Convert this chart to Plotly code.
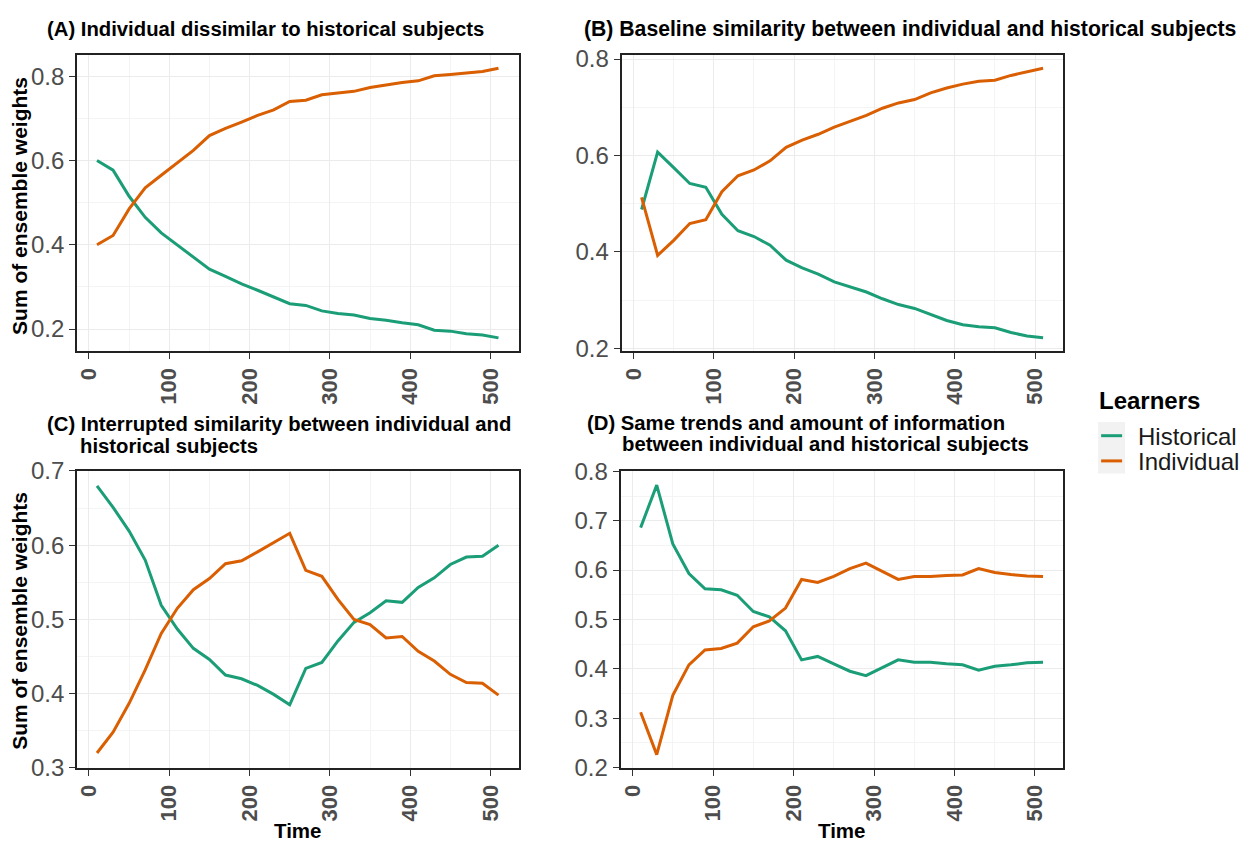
import plotly.graph_objects as go

# ---------------- data ----------------
time = [10, 30, 50, 70, 90, 110, 130, 150, 170, 190, 210, 230, 250,
        270, 290, 310, 330, 350, 370, 390, 410, 430, 450, 470, 490, 510]

a_historical = [0.600, 0.577, 0.515, 0.465, 0.428, 0.400, 0.372, 0.342, 0.325, 0.307,
                0.292, 0.276, 0.260, 0.256, 0.243, 0.237, 0.233, 0.225, 0.221, 0.215,
                0.210, 0.197, 0.195, 0.189, 0.186, 0.179]
a_individual = [0.400, 0.422, 0.485, 0.535, 0.565, 0.595, 0.624, 0.659, 0.676, 0.691,
                0.707, 0.720, 0.740, 0.743, 0.756, 0.760, 0.764, 0.773, 0.779, 0.785,
                0.789, 0.801, 0.804, 0.808, 0.811, 0.819]

b_historical = [0.488, 0.607, 0.575, 0.542, 0.534, 0.478, 0.444, 0.432, 0.414, 0.383,
                0.367, 0.354, 0.338, 0.327, 0.317, 0.303, 0.291, 0.283, 0.270, 0.258,
                0.249, 0.245, 0.243, 0.233, 0.226, 0.222]
b_individual = [0.513, 0.393, 0.424, 0.459, 0.467, 0.525, 0.558, 0.570, 0.589, 0.617,
                0.632, 0.644, 0.659, 0.671, 0.683, 0.698, 0.709, 0.716, 0.730, 0.740,
                0.748, 0.754, 0.756, 0.766, 0.773, 0.781]

c_historical = [0.680, 0.651, 0.619, 0.580, 0.519, 0.487, 0.461, 0.446, 0.425, 0.420,
                0.411, 0.399, 0.385, 0.434, 0.442, 0.471, 0.496, 0.509, 0.525, 0.523,
                0.543, 0.556, 0.574, 0.584, 0.585, 0.600]
c_individual = [0.320, 0.348, 0.387, 0.432, 0.481, 0.515, 0.540, 0.555, 0.575, 0.579,
                0.591, 0.603, 0.616, 0.566, 0.558, 0.527, 0.500, 0.493, 0.475, 0.477,
                0.457, 0.444, 0.426, 0.415, 0.414, 0.398]

d_historical = [0.686, 0.772, 0.653, 0.593, 0.562, 0.560, 0.549, 0.516, 0.505, 0.477,
                0.418, 0.425, 0.410, 0.395, 0.386, 0.402, 0.418, 0.413, 0.413, 0.410,
                0.408, 0.397, 0.405, 0.408, 0.412, 0.413]
d_individual = [0.312, 0.226, 0.346, 0.408, 0.438, 0.441, 0.452, 0.485, 0.497, 0.523,
                0.581, 0.575, 0.587, 0.603, 0.614, 0.598, 0.581, 0.587, 0.587, 0.589,
                0.590, 0.603, 0.595, 0.591, 0.588, 0.587]

x_ticks = [0, 100, 200, 300, 400, 500]
series_names = ["Historical", "Individual"]
colors = {"Historical": "#1B9E77", "Individual": "#D95F02"}

panels = [
    dict(hist=a_historical, ind=a_individual, yrange=[0.147, 0.851], minor=0.1,
         ticks=[0.2, 0.4, 0.6, 0.8], ticktext=["0.2", "0.4", "0.6", "0.8"]),
    dict(hist=b_historical, ind=b_individual, yrange=[0.194, 0.809], minor=0.1,
         ticks=[0.2, 0.4, 0.6, 0.8], ticktext=["0.2", "0.4", "0.6", "0.8"]),
    dict(hist=c_historical, ind=c_individual, yrange=[0.2995, 0.7005], minor=0.05,
         ticks=[0.3, 0.4, 0.5, 0.6, 0.7], ticktext=["0.3", "0.4", "0.5", "0.6", "0.7"]),
    dict(hist=d_historical, ind=d_individual, yrange=[0.1985, 0.8015], minor=0.05,
         ticks=[0.2, 0.3, 0.4, 0.5, 0.6, 0.7, 0.8],
         ticktext=["0.2", "0.3", "0.4", "0.5", "0.6", "0.7", "0.8"]),
]

W, H = 1251, 852
def px_x(v): return v / W
def px_y(v): return 1 - v / H

domains = [
    ([76, 518], [43, 349]),
    ([621, 1063], [43, 349]),
    ([76, 518], [472, 779]),
    ([620, 1063], [472, 779]),
]

FONT = "Liberation Sans, Arial, Helvetica, sans-serif"

fig = go.Figure()
layout = dict(
    width=W, height=H,
    margin=dict(l=0, r=0, t=0, b=0),
    paper_bgcolor="white", plot_bgcolor="white",
    font=dict(family=FONT, color="#000000"),
    showlegend=False,
)

for i, p in enumerate(panels):
    n = "" if i == 0 else str(i + 1)
    xa, ya = "x" + n, "y" + n
    (x0, x1), (y0, y1) = domains[i]
    for name, vals in (("Historical", p["hist"]), ("Individual", p["ind"])):
        fig.add_trace(go.Scatter(
            x=time, y=vals, mode="lines", name=name,
            line=dict(color=colors[name], width=3),
            xaxis=xa, yaxis=ya, legendgroup=name,
        ))
    layout["xaxis" + n] = dict(
        domain=[px_x(x0), px_x(x1)], anchor=ya, range=[-15, 535],
        tickvals=x_ticks, ticktext=[str(t) for t in x_ticks], tickangle=-90,
        tickfont=dict(size=22, family=FONT, color="#4D4D4D", weight="bold"),
        ticks="outside", ticklen=6, tickwidth=1.3, tickcolor="#333333",
        showgrid=True, gridcolor="#EBEBEB", gridwidth=1,
        minor=dict(dtick=50, tick0=0, showgrid=True, gridcolor="#F4F4F4", gridwidth=1, ticks=""),
        showline=True, linecolor="#222222", linewidth=1.6, mirror=True,
        zeroline=False, fixedrange=True,
    )
    layout["yaxis" + n] = dict(
        domain=[px_y(y1), px_y(y0)], anchor=xa, range=p["yrange"],
        tickvals=p["ticks"], ticktext=p["ticktext"],
        tickfont=dict(size=24, family=FONT, color="#4D4D4D"),
        ticks="outside", ticklen=6, tickwidth=1.3, tickcolor="#333333",
        showgrid=True, gridcolor="#EBEBEB", gridwidth=1,
        minor=dict(dtick=p["minor"], tick0=0, showgrid=True, gridcolor="#F4F4F4", gridwidth=1, ticks=""),
        showline=True, linecolor="#222222", linewidth=1.6, mirror=True,
        zeroline=False, fixedrange=True,
    )

annotations = []
def add_text(text, x, y, size=20.3, angle=0, xanchor="left", bold=True, color="#000000"):
    annotations.append(dict(
        text=("<b>" + text + "</b>") if bold else text,
        x=px_x(x), y=px_y(y), xref="paper", yref="paper",
        xanchor=xanchor, yanchor="middle", showarrow=False, textangle=angle,
        font=dict(size=size, family=FONT, color=color),
    ))

add_text("(A) Individual dissimilar to historical subjects", 44, 16)
add_text("(B) Baseline similarity between individual and historical subjects", 581, 16, size=21.2)
add_text("(C) Interrupted similarity between individual and", 44, 424)
add_text("historical subjects", 77, 447)
add_text("(D) Same trends and amount of information", 584, 423)
add_text("between individual and historical subjects", 619, 445)
add_text("Sum of ensemble weights", 19, 199, size=21, angle=-90, xanchor="center")
add_text("Sum of ensemble weights", 19, 627, size=21, angle=-90, xanchor="center")
add_text("Time", 297, 843, size=20.5, xanchor="center")
add_text("Time", 841, 843, size=20.5, xanchor="center")

# legend
add_text("Learners", 1097, 400, size=24)
legend_rows = [("Historical", 436), ("Individual", 462)]
shapes = [dict(
    type="rect", xref="paper", yref="paper",
    x0=px_x(1098), x1=px_x(1125), y0=px_y(475), y1=px_y(422),
    fillcolor="#F2F2F2", line=dict(width=0), layer="below",
)]
for name, yy in legend_rows:
    add_text(name, 1136, yy + 1, size=24, bold=False, color="#1a1a1a")
    shapes.append(dict(
        type="line", xref="paper", yref="paper",
        x0=px_x(1101), x1=px_x(1122), y0=px_y(yy), y1=px_y(yy),
        line=dict(color=colors[name], width=3),
    ))

layout["annotations"] = annotations
layout["shapes"] = shapes

fig.update_layout(**layout)
fig.write_html("out.html")
